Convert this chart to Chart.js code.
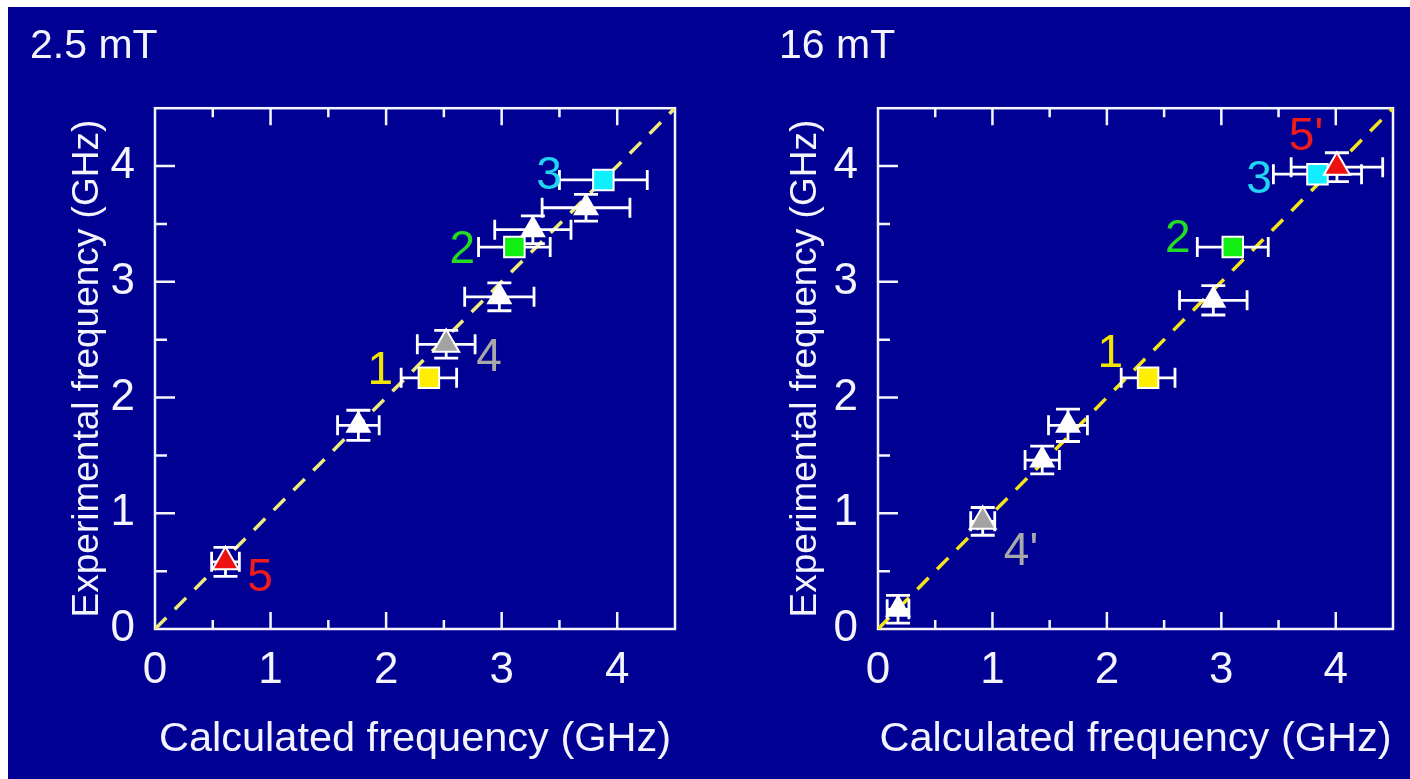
<!DOCTYPE html>
<html>
<head>
<meta charset="utf-8">
<script src="https://cdn.jsdelivr.net/npm/chart.js@4.4.1/dist/chart.umd.min.js"></script>
<style>
  html, body { margin: 0; padding: 0; background: #ffffff; }
  #board { position: absolute; left: 8px; top: 7px; width: 1402px; height: 772px; background: #000092; }
  .panel { position: absolute; top: 0; height: 772px; }
  #p1 { left: 0; width: 707px; }
  #p2 { left: 707px; width: 695px; }
</style>
</head>
<body>
<div id="board">
  <div class="panel" id="p1"><canvas id="lowChart"></canvas></div>
  <div class="panel" id="p2"><canvas id="highChart"></canvas></div>
</div>
<script>
// axis range and tick labels (GHz)
const axisMax = 4.5;
const tickValues = [0, 1, 2, 3, 4];
const diagonal = [0, 4.5];

// 2.5 mT: calculated vs experimental frequency
const lowCalc    = [0.61, 1.76, 2.37, 2.52, 2.98, 3.11, 3.27, 3.73, 3.88];
const lowExp     = [0.58, 1.76, 2.17, 2.46, 2.87, 3.30, 3.45, 3.64, 3.88];
const lowCalcErr = [0.12, 0.18, 0.24, 0.25, 0.30, 0.31, 0.33, 0.38, 0.38];
const lowExpErr  = [0.125, 0.13, 0, 0.12, 0.12, 0, 0.12, 0.115, 0];
const lowKind    = ['red', 'white', 'yellow', 'gray', 'white', 'green', 'white', 'white', 'cyan'];
const lowLabels    = ['5', '1', '4', '2', '3'];
const lowLabelCalc = [0.91, 1.95, 2.89, 2.66, 3.41];
const lowLabelExp  = [0.44, 2.23, 2.34, 3.27, 3.91];
const lowLabelKind = ['red', 'yellow', 'gray', 'green', 'cyan'];

// 16 mT
const highCalc    = [0.175, 0.915, 1.435, 1.66, 2.36, 2.93, 3.10, 3.84, 4.01];
const highExp     = [0.17, 0.93, 1.46, 1.76, 2.17, 2.84, 3.30, 3.93, 3.99];
const highCalcErr = [0.095, 0.105, 0.15, 0.17, 0.235, 0.295, 0.31, 0.385, 0.40];
const highExpErr  = [0.12, 0.12, 0.12, 0.14, 0, 0.127, 0, 0, 0.125];
const highKind    = ['white', 'gray', 'white', 'white', 'yellow', 'white', 'green', 'cyan', 'red'];
const highLabels    = ['1', '2', '3', "5'", "4'"];
const highLabelCalc = [2.03, 2.62, 3.33, 3.74, 1.25];
const highLabelExp  = [2.37, 3.37, 3.88, 4.25, 0.66];
const highLabelKind = ['yellow', 'green', 'cyan', 'red', 'gray'];

const FONT = "'Liberation Sans', Arial, sans-serif";
const INK = '#f4f4ff';

const markers = {
  white:  { shape: 'triangle', fill: '#ffffff', text: '#ffffff' },
  gray:   { shape: 'triangle', fill: '#a3a3a3', text: '#a8a8a8' },
  red:    { shape: 'triangle', fill: '#ee1111', text: '#ee1c1c' },
  yellow: { shape: 'rect', fill: '#ffee00', text: '#f2e600' },
  green:  { shape: 'rect', fill: '#11ee11', text: '#22dd22' },
  cyan:   { shape: 'rect', fill: '#11eeff', text: '#22d4f4' }
};

function makePanel(canvasId, p) {
  const points = p.calc.map((x, i) => ({ x: x, y: p.exp[i] }));

  // white frame with inward ticks on left, bottom and top
  const frame = {
    id: 'frame',
    beforeDatasetsDraw(chart) {
      const { ctx, chartArea: a, scales: { x, y } } = chart;
      ctx.save();
      ctx.strokeStyle = INK;
      ctx.lineWidth = 2.5;
      ctx.strokeRect(a.left, a.top, a.right - a.left, a.bottom - a.top);
      ctx.beginPath();
      for (let v = 0.5; v < axisMax; v += 0.5) {
        const major = Number.isInteger(v);
        const px = x.getPixelForValue(v);
        const py = y.getPixelForValue(v);
        ctx.moveTo(px, a.bottom); ctx.lineTo(px, a.bottom - (major ? 17 : 9));
        ctx.moveTo(px, a.top); ctx.lineTo(px, a.top + (major ? 17 : 9));
        ctx.moveTo(a.left, py); ctx.lineTo(a.left + (major ? 20 : 12), py);
      }
      ctx.stroke();
      ctx.restore();
    }
  };

  // error bars go above the dashed line, under the markers
  const errorBars = {
    id: 'errorBars',
    afterDatasetDraw(chart, args) {
      if (chart.data.datasets[args.index].label !== 'y = x') return;
      const { ctx, scales: { x, y } } = chart;
      ctx.save();
      ctx.strokeStyle = '#ffffff';
      ctx.lineWidth = 2.8;
      p.calc.forEach((xv, i) => {
        const px = x.getPixelForValue(xv);
        const py = y.getPixelForValue(p.exp[i]);
        ctx.beginPath();
        if (p.calcErr[i]) {
          const l = x.getPixelForValue(xv - p.calcErr[i]);
          const r = x.getPixelForValue(xv + p.calcErr[i]);
          ctx.moveTo(l, py); ctx.lineTo(r, py);
          ctx.moveTo(l, py - 10); ctx.lineTo(l, py + 10);
          ctx.moveTo(r, py - 10); ctx.lineTo(r, py + 10);
        }
        if (p.expErr[i]) {
          const t = y.getPixelForValue(p.exp[i] + p.expErr[i]);
          const b = y.getPixelForValue(p.exp[i] - p.expErr[i]);
          ctx.moveTo(px, t); ctx.lineTo(px, b);
          ctx.moveTo(px - 12, t); ctx.lineTo(px + 12, t);
          ctx.moveTo(px - 12, b); ctx.lineTo(px + 12, b);
        }
        ctx.stroke();
      });
      ctx.restore();
    }
  };

  const tags = {
    id: 'tags',
    afterDatasetsDraw(chart) {
      const { ctx, scales: { x, y } } = chart;
      ctx.save();
      ctx.font = '46px ' + FONT;
      ctx.textAlign = 'center';
      ctx.textBaseline = 'middle';
      p.labels.forEach((t, i) => {
        ctx.fillStyle = markers[p.labelKind[i]].text;
        ctx.fillText(t, x.getPixelForValue(p.labelX[i]), y.getPixelForValue(p.labelY[i]));
      });
      ctx.restore();
    }
  };

  const keepTicks = scale => {
    scale.ticks = tickValues.map(v => ({ value: v }));
  };

  return new Chart(document.getElementById(canvasId), {
    type: 'scatter',
    data: {
      datasets: [
        {
          label: 'points',
          data: points,
          pointStyle: p.kind.map(k => markers[k].shape),
          pointRadius: p.kind.map(k => markers[k].shape === 'rect' ? 14.5 : 15),
          pointBackgroundColor: p.kind.map(k => markers[k].fill),
          pointBorderColor: '#ffffff',
          pointBorderWidth: p.kind.map(k => k === 'white' ? 0 : 2),
          order: 1
        },
        {
          label: 'y = x',
          data: diagonal.map(v => ({ x: v, y: v })),
          showLine: true,
          borderColor: p.lineColor,
          borderWidth: 3.5,
          borderDash: [16, 12],
          pointRadius: 0,
          order: 5
        }
      ]
    },
    options: {
      responsive: true,
      maintainAspectRatio: false,
      animation: false,
      layout: { padding: { left: p.padLeft, right: p.padRight, top: 0, bottom: 0 } },
      scales: {
        x: {
          type: 'linear', min: 0, max: axisMax,
          grid: { display: false, drawTicks: false },
          border: { display: false },
          ticks: { color: INK, padding: 15, font: { family: FONT, size: 44 } },
          title: { display: true, text: 'Calculated frequency (GHz)', color: INK,
                   font: { family: FONT, size: 41.5, lineHeight: 1.2 }, padding: { top: 0, bottom: 15 } },
          afterBuildTicks: keepTicks,
          afterFit: s => { s.height = 150; }
        },
        y: {
          type: 'linear', min: 0, max: axisMax,
          grid: { display: false, drawTicks: false },
          border: { display: false },
          ticks: { color: INK, padding: 20, font: { family: FONT, size: 44 } },
          title: { display: true, text: 'Experimental frequency (GHz)', color: INK,
                   font: { family: FONT, size: 37, lineHeight: 1.0 }, padding: { top: p.yTitlePad, bottom: 0 } },
          afterBuildTicks: keepTicks,
          afterFit: s => { s.width = p.yAxisWidth; }
        }
      },
      plugins: {
        legend: { display: false },
        tooltip: { enabled: false },
        title: { display: true, text: p.title, align: 'start', color: INK,
                 font: { family: FONT, size: 41, weight: 'normal', lineHeight: 1.2 },
                 padding: { top: 15, bottom: 37 } }
      }
    },
    plugins: [frame, errorBars, tags]
  });
}

makePanel('lowChart', {
  title: '2.5 mT',
  calc: lowCalc, exp: lowExp, calcErr: lowCalcErr, expErr: lowExpErr, kind: lowKind,
  labels: lowLabels, labelX: lowLabelCalc, labelY: lowLabelExp, labelKind: lowLabelKind,
  lineColor: '#efeb7a',
  padLeft: 22, padRight: 40, yAxisWidth: 125, yTitlePad: 39
});

makePanel('highChart', {
  title: '16 mT',
  calc: highCalc, exp: highExp, calcErr: highCalcErr, expErr: highExpErr, kind: highKind,
  labels: highLabels, labelX: highLabelCalc, labelY: highLabelExp, labelKind: highLabelKind,
  lineColor: '#f4e41a',
  padLeft: 64, padRight: 13, yAxisWidth: 99, yTitlePad: 8
});
</script>
</body>
</html>
